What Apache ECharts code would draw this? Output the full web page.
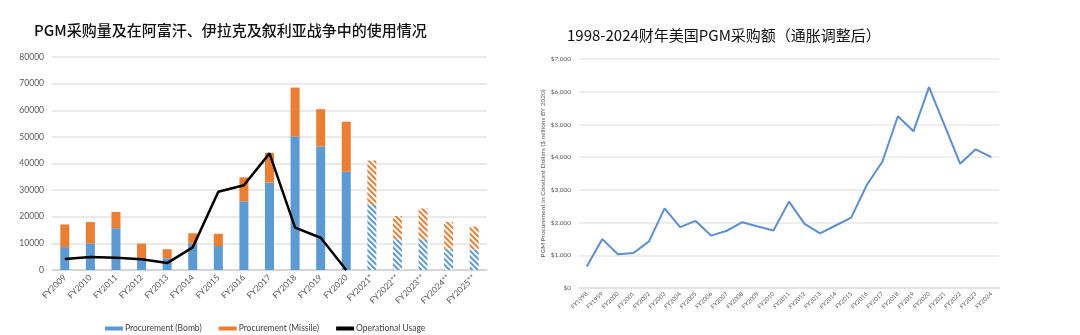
<!DOCTYPE html>
<html>
<head>
<meta charset="utf-8">
<script src="https://cdn.jsdelivr.net/npm/echarts@6/dist/echarts.min.js"></script>
<style>html,body{margin:0;padding:0;background:#fff;}#c{width:1080px;height:335px;}</style>
</head>
<body>
<div id="c"></div>
<script>
// Left chart data
const leftCategories = ['FY2009','FY2010','FY2011','FY2012','FY2013','FY2014','FY2015','FY2016','FY2017','FY2018','FY2019','FY2020','FY2021*','FY2022**','FY2023**','FY2024**','FY2025**'];
const bombValues = [8600, 10000, 15700, 4000, 4400, 10000, 9000, 25800, 32800, 50100, 46400, 36900, 24400, 11600, 11600, 8000, 7800];
const missileValues = [8500, 8000, 6100, 5900, 3400, 3800, 4600, 9000, 11200, 18400, 14000, 18800, 16700, 8700, 11500, 10100, 8500];
const usageValues = [4100, 4900, 4600, 4000, 2600, 8500, 29400, 31800, 43800, 15900, 12100, 0, null, null, null, null, null];
const leftYTicks = [0, 10000, 20000, 30000, 40000, 50000, 60000, 70000, 80000];

// Right chart data
const rightCategories = ['FY1998','FY1999','FY2000','FY2001','FY2002','FY2003','FY2004','FY2005','FY2006','FY2007','FY2008','FY2009','FY2010','FY2011','FY2012','FY2013','FY2014','FY2015','FY2016','FY2017','FY2018','FY2019','FY2020','FY2021','FY2022','FY2023','FY2024'];
const procurementDollars = [660, 1495, 1030, 1070, 1425, 2435, 1860, 2050, 1600, 1750, 2010, 1880, 1760, 2640, 1960, 1670, 1910, 2150, 3150, 3860, 5250, 4790, 6140, 4970, 3800, 4240, 4000];
const rightYTicks = [0, 1000, 2000, 3000, 4000, 5000, 6000, 7000];

const BLUE = '#5b9bd5', ORANGE = '#ed7d31';
const isProjected = c => c.indexOf('*') >= 0;
function hatch(color){
  return {
    color: '#ffffff',
    decal: { symbol: 'rect', symbolSize: 1, color: color, backgroundColor: '#ffffff',
             dashArrayX: [1, 0], dashArrayY: [2, 2], rotation: Math.PI / 4 }
  };
}
function withStyle(vals, color){
  return vals.map((v, i) => isProjected(leftCategories[i]) ? { value: v, itemStyle: hatch(color) } : v);
}

const chart = echarts.init(document.getElementById('c'));
const axisLabelColor = '#595959';
const tickFont = 'Lato';
chart.setOption({
  animation: false,
  backgroundColor: '#ffffff',
  title: [
    { text: 'PGM采购量及在阿富汗、伊拉克及叙利亚战争中的使用情况', left: 29, top: 18,
      textStyle: { fontFamily: 'Noto Sans CJK SC', fontSize: 15, fontWeight: 500, color: '#111' } },
    { text: '1998-2024财年美国PGM采购额（通胀调整后）', left: 562, top: 23,
      textStyle: { fontFamily: 'Noto Sans CJK SC', fontSize: 15, fontWeight: 400, color: '#111' } }
  ],
  legend: {
    left: 100, top: 319, itemWidth: 18, itemHeight: 4, itemGap: 17,
    textStyle: { fontFamily: tickFont, fontSize: 8.5, color: '#404040', padding: [0, 0, 0, -3] },
    data: [
      { name: 'Procurement (Bomb)', icon: 'rect' },
      { name: 'Procurement (Missile)', icon: 'rect' },
      { name: 'Operational Usage', icon: 'rect', itemStyle: { color: '#000' } }
    ]
  },
  grid: [
    { left: 52, top: 57, width: 435, height: 213 },
    { left: 579, top: 59, width: 420, height: 229 }
  ],
  xAxis: [
    { type: 'category', gridIndex: 0, data: leftCategories,
      axisLine: { lineStyle: { color: '#d0d0d0', width: 1.5 } }, axisTick: { show: false },
      axisLabel: { rotate: 45, fontSize: 8.5, color: axisLabelColor, fontFamily: tickFont, margin: 6, interval: 0 } },
    { type: 'category', gridIndex: 1, data: rightCategories,
      axisLine: { lineStyle: { color: '#e0e0e0', width: 1.5 } }, axisTick: { show: false },
      axisLabel: { rotate: 45, fontSize: 6, color: axisLabelColor, fontFamily: tickFont, margin: 5, interval: 0 } }
  ],
  yAxis: [
    { type: 'value', gridIndex: 0, min: leftYTicks[0], max: leftYTicks[leftYTicks.length-1], interval: leftYTicks[1]-leftYTicks[0],
      axisLine: { show: false }, axisTick: { show: false },
      splitLine: { lineStyle: { color: '#e3e3e3', width: 1.5 } },
      axisLabel: { fontSize: 8.5, color: axisLabelColor, fontFamily: tickFont, margin: 8, formatter: v => String(v) } },
    { type: 'value', gridIndex: 1, min: rightYTicks[0], max: rightYTicks[rightYTicks.length-1], interval: rightYTicks[1]-rightYTicks[0],
      axisLine: { show: false }, axisTick: { show: false },
      splitLine: { lineStyle: { color: '#e8e8e8', width: 1.5 } },
      name: 'PGM Procurement in Constant Dollars ($ millions BY 2020)', nameLocation: 'middle', nameGap: 28, nameRotate: 90,
      nameTextStyle: { fontSize: 6.5, color: axisLabelColor, fontFamily: tickFont },
      axisLabel: { fontSize: 6.5, color: axisLabelColor, fontFamily: tickFont, margin: 8,
        formatter: v => '$' + v.toLocaleString('en-US') } }
  ],
  series: [
    { name: 'Procurement (Bomb)', type: 'bar', stack: 'p', xAxisIndex: 0, yAxisIndex: 0, barWidth: 9,
      itemStyle: { color: BLUE }, data: withStyle(bombValues, BLUE) },
    { name: 'Procurement (Missile)', type: 'bar', stack: 'p', xAxisIndex: 0, yAxisIndex: 0, barWidth: 9,
      itemStyle: { color: ORANGE }, data: withStyle(missileValues, ORANGE) },
    { name: 'Operational Usage', type: 'line', xAxisIndex: 0, yAxisIndex: 0, symbol: 'none', showSymbol: false,
      lineStyle: { color: '#000', width: 2.5 }, itemStyle: { color: '#000' }, data: usageValues, z: 5 },
    { name: 'PGM', type: 'line', xAxisIndex: 1, yAxisIndex: 1, symbol: 'none', showSymbol: false,
      lineStyle: { color: '#5b8fd6', width: 2 }, data: procurementDollars }
  ]
});
</script>
</body>
</html>
